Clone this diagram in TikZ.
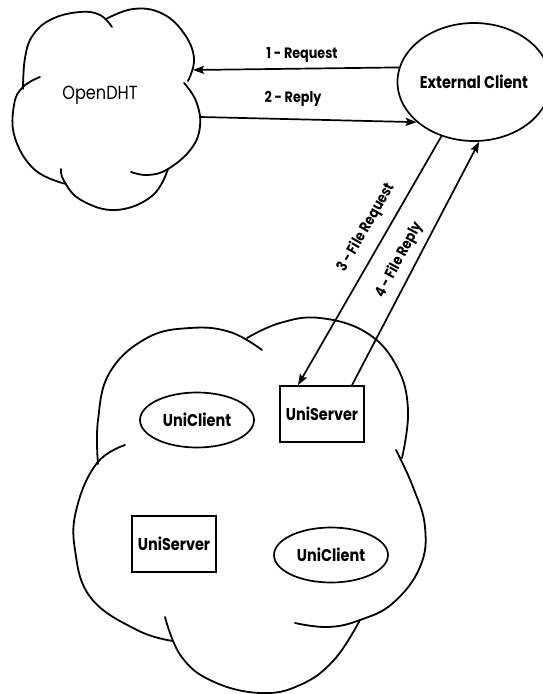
\documentclass[tikz,border=0pt]{standalone}
\usepackage{fontspec}
\newfontfamily\geo{Poppins}[FakeStretch=0.85]
\usetikzlibrary{shapes.geometric,arrows.meta}
\begin{document}
\begin{tikzpicture}[x=1pt,y=-1pt,
  cloudline/.style={line width=1.8pt, line cap=round},
  conn/.style={line width=1.7pt, -{Stealth[length=11pt,width=8pt,inset=2pt]}},
  boldtxt/.style={font=\geo\bfseries\fontsize{17}{17}\selectfont},
  lbltxt/.style={font=\geo\bfseries\fontsize{15}{15}\selectfont, inner sep=1pt},
  box/.style={draw, line width=1.7pt, rectangle, minimum width=84pt, minimum height=56pt, inner sep=0pt},
  oval/.style={draw, line width=1.7pt, ellipse, minimum width=114pt, minimum height=55pt, inner sep=0pt}]
\fill[white] (0,0) rectangle (542,694);
\useasboundingbox (0,0) rectangle (542,694);

% ---- OpenDHT cloud ----
\draw[cloudline] plot[smooth, tension=0.7] coordinates {(23,89) (25,58) (33,35) (52,19) (80,12) (100,15) (112,27)};
\draw[cloudline] plot[smooth, tension=0.7] coordinates {(106,19) (133,9) (161,13) (183,32) (194,58) (188,81)};
\draw[cloudline] plot[smooth, tension=0.7] coordinates {(184,83) (196,101) (200,126) (191,149) (168,169) (148,175) (131,172)};
\draw[cloudline] plot[smooth, tension=0.7] coordinates {(168,169) (152,196) (116,210) (81,200) (64,181) (61,169)};
\draw[cloudline] plot[smooth, tension=0.7] coordinates {(66,184) (35,170) (15,138) (14,105) (23,87) (40,77)};
\node[font=\geo\fontsize{19}{19}\selectfont] (dht) at (100,95) {OpenDHT};
\coordinate (dhtin) at (193,70);
\coordinate (dhtout) at (201,117);

% ---- External client ----
\node[draw, ellipse, line width=1.7pt, minimum width=125pt, minimum height=118pt, inner sep=0pt, boldtxt] (ext) at (474,82) {External Client};

% ---- Lower cloud ----
\draw[cloudline] plot[smooth, tension=0.7] coordinates {(98,464) (98,420) (110,372) (147,338) (190,328) (230,332) (262,350)};
\draw[cloudline] plot[smooth, tension=0.7] coordinates {(247,338) (280,323) (320,318) (367,333) (397,367) (408,410) (402,458)};
\draw[cloudline] plot[smooth, tension=0.7] coordinates {(396,450) (413,487) (425,527) (420,567) (393,603) (360,620) (328,627) (295,623)};
\draw[cloudline] plot[smooth, tension=0.7] coordinates {(360,620) (334,660) (300,685) (260,693) (212,681) (181,656) (165,617)};
\draw[cloudline] plot[smooth, tension=0.7] coordinates {(173,641) (137,630) (91,598) (75,550) (77,507) (97,463) (125,445)};

\node[box, boldtxt] (us1) at (322,414) {UniServer};
\node[box, boldtxt] (us2) at (174,544) {UniServer};
\node[oval, boldtxt] (uc1) at (197,420) {UniClient};
\node[oval, boldtxt] (uc2) at (331,555) {UniClient};

% ---- connectors ----
\draw[conn] (ext.169) -- (dhtin);
\draw[conn] (dhtout) -- (ext.215);
\draw[conn] (ext.239) -- ([xshift=-24pt]us1.north);
\draw[conn] ([xshift=30pt]us1.north) -- (ext.275);

\node[lbltxt] (l1) at (302,55) {1 - Request};
\node[lbltxt] (l2) at (293,99) {2 - Reply};
\node[lbltxt, rotate=60] (l3) at (366,228) {3 - File Request};
\node[lbltxt, rotate=62] (l4) at (399,260) {4 - File Reply};
\end{tikzpicture}
\end{document}
